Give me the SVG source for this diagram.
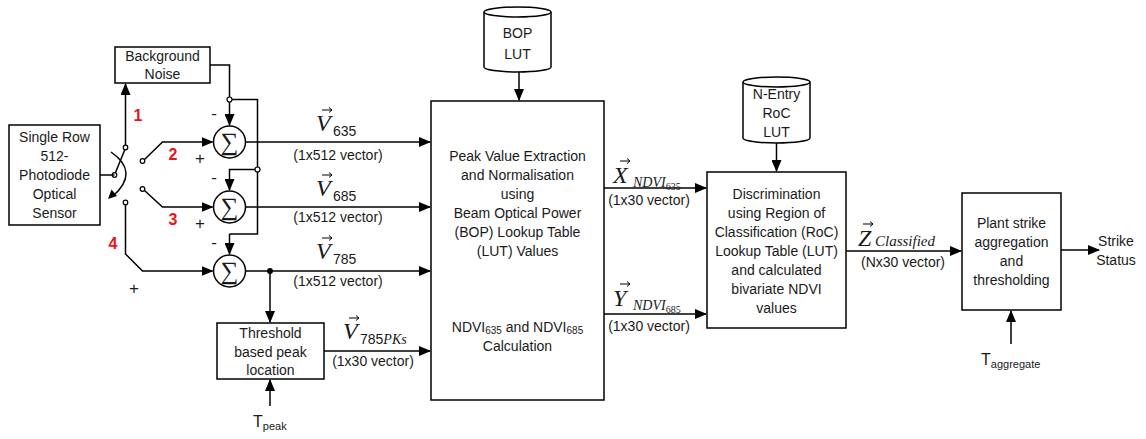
<svg xmlns="http://www.w3.org/2000/svg" width="1146" height="439" viewBox="0 0 1146 439">
<defs>
<marker id="ah" markerWidth="12" markerHeight="10" refX="11" refY="5" orient="auto" markerUnits="userSpaceOnUse">
<path d="M0,0 L12,5 L0,10 Z" fill="#000"/>
</marker>
<style>
.b{fill:#fff;stroke:#000;stroke-width:1.5}
.w{fill:none;stroke:#000;stroke-width:1.5}
.v{fill:none;stroke:#000;stroke-width:1}
.a{fill:none;stroke:#000;stroke-width:1.5;marker-end:url(#ah)}
.t{font-family:"Liberation Sans",Arial,sans-serif;font-size:14px;fill:#1a1a1a;text-anchor:middle}
.s{font-family:"Liberation Sans",Arial,sans-serif;font-size:14px;fill:#1a1a1a}
.m{font-family:"Liberation Serif","Times New Roman",serif;font-style:italic;fill:#1a1a1a}
.g{font-family:"Liberation Serif","Times New Roman",serif;font-size:25px;fill:#1a1a1a;text-anchor:middle}
.r{font-family:"Liberation Sans",Arial,sans-serif;font-size:16px;font-weight:bold;fill:#e8141c;text-anchor:middle}
.pm{font-family:"Liberation Sans",Arial,sans-serif;font-size:17px;fill:#1a1a1a;text-anchor:middle}
.oc{fill:#fff;stroke:#000;stroke-width:1.2}
</style>
</defs>
<rect width="1146" height="439" fill="#fff"/>

<g id="sensor">
<rect class="b" x="9" y="125" width="91" height="100"/>
<text class="t" x="54.5" y="142">Single Row</text>
<text class="t" x="54.5" y="161">512-</text>
<text class="t" x="54.5" y="180">Photodiode</text>
<text class="t" x="54.5" y="199">Optical</text>
<text class="t" x="54.5" y="218">Sensor</text>
</g>

<g id="background-noise">
<rect class="b" x="115" y="47" width="95" height="36"/>
<text class="t" x="162.5" y="61">Background</text>
<text class="t" x="162.5" y="79">Noise</text>
</g>

<g id="switch">
<path class="w" d="M114.5,175 L125.5,148"/>
<path class="w" d="M111,152 Q140,172 113,196"/>
<path d="M108,199 L111.5,189.5 L117,196 Z" fill="#000"/>
<circle class="oc" cx="114.5" cy="175" r="2.3"/>
<circle class="oc" cx="125.5" cy="147.5" r="2.3"/>
<circle class="oc" cx="142.5" cy="161" r="2.3"/>
<circle class="oc" cx="142.5" cy="189" r="2.3"/>
<circle class="oc" cx="125.5" cy="202.5" r="2.3"/>
<text class="r" x="138" y="121">1</text>
<text class="r" x="173" y="160">2</text>
<text class="r" x="173" y="225">3</text>
<text class="r" x="113" y="249">4</text>
</g>

<g id="sum1">
<circle class="b" cx="229.5" cy="142" r="16"/>
<text class="g" x="229.5" y="150">∑</text>
<text class="pm" x="214" y="119">-</text>
<text class="pm" x="200" y="164">+</text>
</g>
<g id="sum2">
<circle class="b" cx="229.5" cy="207" r="16"/>
<text class="g" x="229.5" y="215">∑</text>
<text class="pm" x="214" y="183">-</text>
<text class="pm" x="200" y="229">+</text>
</g>
<g id="sum3">
<circle class="b" cx="229.5" cy="271" r="16"/>
<text class="g" x="229.5" y="279">∑</text>
<text class="pm" x="214" y="248">-</text>
<text class="pm" x="134" y="294">+</text>
</g>

<g id="threshold">
<rect class="b" x="217" y="323" width="107" height="56"/>
<text class="t" x="270.5" y="338">Threshold</text>
<text class="t" x="270.5" y="357">based peak</text>
<text class="t" x="270.5" y="375">location</text>
</g>

<g id="bop-lut">
<path class="b" d="M484,12 A33.5,5 0 0 1 551,12 L551,67 A33.5,5 0 0 1 484,67 Z"/>
<path class="w" d="M484,12 A33.5,5 0 0 0 551,12"/>
<text class="t" x="517.5" y="38">BOP</text>
<text class="t" x="517.5" y="59">LUT</text>
</g>

<g id="peak-extraction">
<rect class="b" x="431" y="101" width="173" height="299"/>
<text class="t" x="517.5" y="161">Peak Value Extraction</text>
<text class="t" x="517.5" y="180">and Normalisation</text>
<text class="t" x="517.5" y="199">using</text>
<text class="t" x="517.5" y="218">Beam Optical Power</text>
<text class="t" x="517.5" y="237">(BOP) Lookup Table</text>
<text class="t" x="517.5" y="256">(LUT) Values</text>
<text class="t" x="517.5" y="332">NDVI<tspan style="font-size:10px" dy="2">635</tspan><tspan dy="-2"> and NDVI</tspan><tspan style="font-size:10px" dy="2">685</tspan></text>
<text class="t" x="517.5" y="351">Calculation</text>
</g>

<g id="roc-lut">
<path class="b" d="M743,82 A33.5,5 0 0 1 810,82 L810,138 A33.5,5 0 0 1 743,138 Z"/>
<path class="w" d="M743,82 A33.5,5 0 0 0 810,82"/>
<text class="t" x="776.5" y="99">N-Entry</text>
<text class="t" x="776.5" y="118">RoC</text>
<text class="t" x="776.5" y="137">LUT</text>
</g>

<g id="discrimination">
<rect class="b" x="707" y="172" width="139" height="156"/>
<text class="t" x="776.5" y="199">Discrimination</text>
<text class="t" x="776.5" y="218">using Region of</text>
<text class="t" x="776.5" y="237">Classification (RoC)</text>
<text class="t" x="776.5" y="256">Lookup Table (LUT)</text>
<text class="t" x="776.5" y="275">and calculated</text>
<text class="t" x="776.5" y="294">bivariate NDVI</text>
<text class="t" x="776.5" y="313">values</text>
</g>

<g id="aggregation">
<rect class="b" x="962" y="193" width="99" height="117"/>
<text class="t" x="1011.5" y="228">Plant strike</text>
<text class="t" x="1011.5" y="247">aggregation</text>
<text class="t" x="1011.5" y="266">and</text>
<text class="t" x="1011.5" y="285">thresholding</text>
</g>

<g id="strike-status">
<text class="t" x="1116" y="246">Strike</text>
<text class="t" x="1116" y="265">Status</text>
</g>

<g id="t-peak">
<text class="s" x="253" y="427" style="font-size:16px">T<tspan style="font-size:11px" dy="3">peak</tspan></text>
</g>
<g id="t-aggregate">
<text class="s" x="981" y="365" style="font-size:16px">T<tspan style="font-size:11px" dy="3">aggregate</tspan></text>
</g>

<g id="connectors">
<path class="w" d="M100,175 L114.5,175"/>
<path class="a" d="M125.5,145 L125.5,84"/>
<path class="a" d="M144.5,159.5 L162.5,142 L212.5,142"/>
<path class="a" d="M144.5,190.5 L162.5,207 L212.5,207"/>
<path class="a" d="M125.5,205 L125.5,254 L142.5,271 L212.5,271"/>
<path class="a" d="M210,65 L229.5,65 L229.5,125"/>
<path class="w" d="M229.5,99.5 L257.5,99.5 L257.5,234 L229.5,234"/>
<path class="a" d="M229.5,234 L229.5,254"/>
<path class="a" d="M257.5,169.5 L229.5,169.5 L229.5,190"/>
<circle class="oc" cx="229.5" cy="99.5" r="2.5"/>
<circle class="oc" cx="257.5" cy="169.5" r="2.5"/>
<path class="a" d="M245.5,142 L430,142"/>
<path class="a" d="M245.5,207 L430,207"/>
<path class="a" d="M245.5,271 L430,271"/>
<circle cx="270" cy="271" r="3" fill="#000"/>
<path class="a" d="M270,271 L270,322"/>
<path class="a" d="M324,351 L430,351"/>
<path class="a" d="M270,406 L270,380"/>
<path class="a" d="M519,72 L519,100"/>
<path class="a" d="M604,188 L706,188"/>
<path class="a" d="M604,314 L706,314"/>
<path class="a" d="M776.5,143 L776.5,171"/>
<path class="a" d="M846,251 L961,251"/>
<path class="a" d="M1061,250 L1099,250"/>
<path class="a" d="M1011,344 L1011,311"/>
</g>

<g id="labels">
<text class="m" x="316" y="131" style="font-size:24px">V</text>
<path class="v" d="M322,110 L332,110 M329,107.5 L332,110 L329,112.5"/>
<text class="s" x="333" y="136">635</text>
<text class="t" x="338" y="160">(1x512 vector)</text>

<text class="m" x="316" y="196" style="font-size:24px">V</text>
<path class="v" d="M322,175 L332,175 M329,172.5 L332,175 L329,177.5"/>
<text class="s" x="333" y="201">685</text>
<text class="t" x="338" y="222">(1x512 vector)</text>

<text class="m" x="316" y="259" style="font-size:24px">V</text>
<path class="v" d="M322,238 L332,238 M329,235.5 L332,238 L329,240.5"/>
<text class="s" x="333" y="264">785</text>
<text class="t" x="338" y="286">(1x512 vector)</text>

<text class="m" x="343" y="339" style="font-size:24px">V</text>
<path class="v" d="M349,318 L359,318 M356,315.5 L359,318 L356,320.5"/>
<text class="s" x="360" y="344">785<tspan class="m" style="font-size:14px">PKs</tspan></text>
<text class="t" x="373" y="366">(1x30 vector)</text>

<text class="m" x="613" y="183" style="font-size:24px">X</text>
<path class="v" d="M620,161 L630,161 M627,158.5 L630,161 L627,163.5"/>
<text class="m" x="633" y="187" style="font-size:14px">NDVI<tspan style="font-size:10px;font-style:normal" dy="3">635</tspan></text>
<text class="t" x="649" y="205">(1x30 vector)</text>

<text class="m" x="613" y="306" style="font-size:24px">Y</text>
<path class="v" d="M620,284 L630,284 M627,281.5 L630,284 L627,286.5"/>
<text class="m" x="633" y="310" style="font-size:14px">NDVI<tspan style="font-size:10px;font-style:normal" dy="3">685</tspan></text>
<text class="t" x="649" y="331">(1x30 vector)</text>

<text class="m" x="858" y="246" style="font-size:24px">Z</text>
<path class="v" d="M863,224 L873,224 M870,221.5 L873,224 L870,226.5"/>
<text class="m" x="875" y="246" style="font-size:15px">Classified</text>
<text class="t" x="903" y="267">(Nx30 vector)</text>
</g>
</svg>
